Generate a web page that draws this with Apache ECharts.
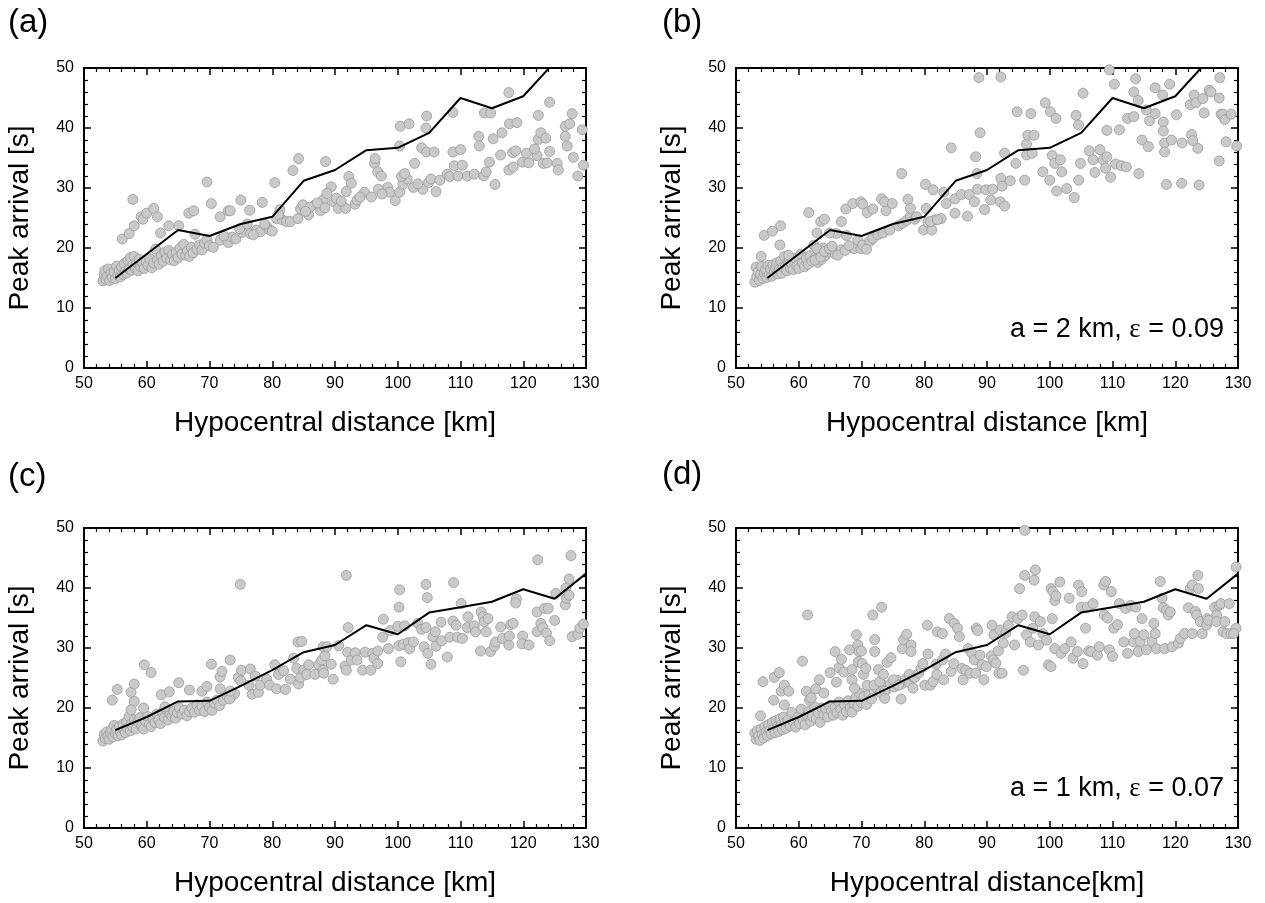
<!DOCTYPE html>
<html>
<head>
<meta charset="utf-8">
<script src="https://cdn.jsdelivr.net/npm/echarts@6/dist/echarts.min.js"></script>
<style>
html,body{margin:0;padding:0;background:#fff;}
#chart{width:1265px;height:903px;}
</style>
</head>
<body>
<div id="chart"></div>
<script>
// ---------------- DATA ----------------
const panelLabels = ['(a)', '(b)', '(c)', '(d)'];
const xTitles = ['Hypocentral distance [km]', 'Hypocentral distance [km]', 'Hypocentral distance [km]', 'Hypocentral distance[km]'];
const yTitle = 'Peak arrival [s]';
const annoB = 'a = 2 km, {e|ε} = 0.09';
const annoD = 'a = 1 km, {e|ε} = 0.07';

const lineX_AB = [55, 60, 65, 70, 75, 80, 85, 90, 95, 100, 105, 110, 115, 120, 125];
const lineY_AB = [15, 19, 23, 22, 24, 25.2, 31.2, 33, 36.3, 36.7, 39.2, 45, 43.3, 45.3, 51];
const lineX_CD = [55, 60, 65, 70, 75, 80, 85, 90, 95, 100, 105, 110, 115, 120, 125, 130];
const lineY_CD = [16.3, 18.5, 21.1, 21.2, 23.7, 26.3, 29.3, 30.5, 33.8, 32.3, 35.9, 36.8, 37.7, 39.8, 38.2, 42.4];

const scatterA = [
[53.0,14.5],[53.2,15.5],[53.3,16.2],[53.5,14.8],[53.7,15.3],[53.9,16.5],[54.1,14.6],[54.3,15.8],[54.5,15.1],[54.8,16.0],
[55.0,14.9],[55.2,17.0],[55.4,15.5],[55.6,16.3],[55.8,15.2],[56.0,16.8],[56.2,15.6],[56.4,17.4],[56.6,16.1],[56.8,15.8],
[57.0,17.9],[57.2,16.5],[57.4,18.4],[57.6,16.3],[57.8,17.2],[58.0,18.6],[58.2,16.6],[58.4,17.6],[58.6,16.2],[58.8,18.1],
[59.0,16.9],[59.3,17.5],[59.6,16.6],[59.9,17.8],[60.2,17.1],[60.5,18.2],[60.8,16.7],[61.1,17.5],[61.4,19.8],[61.7,18.0],
[62.0,17.3],[62.3,18.7],[62.6,17.8],[62.9,19.3],[63.2,18.3],[63.5,19.6],[63.8,18.0],[64.1,18.9],[64.4,17.9],[64.7,19.3],
[65.0,18.4],[65.3,20.0],[65.6,19.0],[65.9,20.6],[66.2,18.8],[66.5,19.5],[66.8,18.6],[67.1,20.1],[67.4,19.2],[67.7,22.3],
[68.0,19.8],[68.4,20.5],[68.8,19.7],[69.2,20.8],[69.6,21.4],[70.0,20.4],
[56.1,21.5],[57.2,22.4],[57.8,28.1],[58.0,23.7],[59.1,25.2],[59.4,24.8],[60.0,25.8],[61.1,26.6],[61.7,25.2],[62.2,22.5],
[63.5,23.7],[65.1,23.7],[66.7,25.8],[67.5,26.2],[69.6,31.0],[70.3,27.4],[71.7,25.2],[73.0,26.2],[73.3,26.2],[75.0,28.0],
[76.4,26.3],[78.4,27.6],[80.4,30.9],[81.2,26.4],[83.3,32.9],[84.2,34.9],[88.5,34.4],[89.4,30.2],[92.2,31.9],[92.6,30.8],[91.8,29.4],
[70.6,20.1],[71.7,21.3],[73.0,20.9],[73.6,21.8],[74.2,21.5],[75.2,22.6],[76.5,22.4],[77.5,23.0],[78.1,22.7],[79.1,23.6],
[79.6,23.0],[80.7,24.9],[81.6,24.7],[82.3,24.4],[72.3,22.0],[74.8,23.2],[76.0,24.0],[77.0,22.2],[78.8,24.0],[80.0,22.8],[81.0,25.6],
[82.9,24.4],[84.1,24.9],[84.5,26.5],[84.9,27.2],[85.8,25.5],[86.8,27.2],[87.7,26.2],[88.1,28.0],[88.7,29.1],[89.8,27.7],
[86.0,26.8],[87.2,27.5],[88.4,26.7],[85.3,26.1],
[90.5,26.6],[91.7,26.6],[93.2,27.3],[93.5,28.0],[94.7,29.3],[95.8,28.5],[98.4,30.1],[98.7,29.3],[99.6,27.9],[100.3,29.3],
[102.5,30.1],[104.0,29.8],[104.9,30.9],[105.3,31.5],[106.1,29.4],[106.7,31.3],[107.9,32.3],[108.3,31.9],[109.6,32.0],[111.1,32.0],
[112.2,32.3],[113.7,32.0],[114.1,32.7],[90.2,28.3],[91.0,27.8],[94.0,28.5],[96.9,29.8],[97.5,29.0],[100.8,30.6],[101.5,31.5],[103.2,30.7],
[96.3,34.1],[96.4,34.9],[96.8,32.7],[97.4,32.0],[100.3,37.0],[100.4,40.3],[101.8,40.7],[100.6,31.9],[101.1,32.4],[102.7,34.1],
[103.8,36.7],[104.5,40.0],[104.6,42.0],[104.6,36.0],[105.8,36.0],[108.8,42.6],[108.8,36.0],[110.0,36.4],[109.0,33.7],[110.3,33.8],
[112.9,38.6],[113.0,37.0],[113.8,42.5],[114.8,42.5],[114.6,34.3],[115.2,38.2],[115.5,30.6],[116.4,35.5],[116.6,39.2],[117.7,45.9],
[117.8,40.7],[119.0,40.9],[118.3,35.9],[118.8,36.2],[117.7,33.0],[118.4,33.5],[119.9,34.3],[120.5,35.8],[120.9,34.2],[122.2,35.4],
[122.4,38.1],[122.8,39.2],[122.4,42.1],[123.2,34.1],[123.6,38.3],[124.2,36.1],[124.2,44.3],[125.4,34.1],[125.6,33.0],[126.7,38.6],
[127.0,37.0],[126.7,40.3],[127.4,40.7],[127.8,42.4],[128.0,35.1],[128.7,32.0],[129.4,39.7],[129.6,33.8],[123.8,34.2],[121.8,36.5]
];

const scatterB = [
[53.0,14.3],[53.2,16.8],[53.3,15.2],[53.5,16.0],[53.7,14.6],[53.9,15.6],[54.1,16.9],[54.3,14.9],[54.5,15.8],[54.7,16.4],
[54.9,15.1],[55.1,17.1],[55.3,15.6],[55.5,16.5],[55.7,15.3],[55.9,17.2],[56.1,16.0],[56.3,16.7],[56.5,17.5],[56.7,15.7],
[56.9,16.4],[57.1,17.8],[57.3,15.8],[57.5,16.8],[57.7,18.6],[57.9,17.0],[58.1,16.2],[58.3,17.6],[58.5,18.0],[58.7,16.6],
[58.9,17.3],[59.1,16.4],[59.4,18.3],[59.7,17.0],[60.0,16.6],[60.3,19.0],[60.6,17.5],[60.9,16.9],[61.2,18.3],[61.5,17.3],
[61.8,18.7],[62.1,17.8],[62.4,20.5],[62.7,18.5],[63.0,17.6],[63.3,19.2],[63.6,18.1],[63.9,20.0],[64.2,18.7],[64.5,19.3],
[58.4,18.8],[57.0,20.5],
[62.9,19.9],[62.6,18.0],[63.5,18.5],[64.1,19.4],[64.9,19.9],[65.8,19.0],[66.8,19.7],[68.8,19.9],[69.4,21.3],[69.9,19.9],
[70.2,20.5],[71.3,21.1],[71.8,21.6],[72.6,22.2],[73.4,22.5],[74.5,23.0],[75.9,23.7],[76.5,24.1],[77.2,24.6],[77.8,25.3],
[78.5,24.8],[79.9,23.0],[80.6,24.3],[81.2,23.0],[81.7,24.7],[82.7,24.9],[65.3,20.3],[66.2,18.8],[67.4,19.6],[68.0,20.4],
[70.8,19.8],[67.6,22.1],[66.0,22.4],
[54.5,22.1],[55.8,22.8],[54.0,18.6],[57.1,23.7],[61.6,25.9],[63.5,24.4],[64.1,24.8],[62.9,22.5],[64.9,22.5],[66.8,24.4],
[67.5,26.5],[68.6,27.4],[69.9,27.7],[70.2,27.3],[70.9,25.9],[71.8,26.5],[73.2,28.2],[73.9,26.2],[73.7,27.7],[74.9,27.4],
[76.4,32.4],[77.4,28.1],[77.8,26.6],[78.8,25.2],[80.2,30.6],[81.4,29.7],[80.3,26.6],[81.0,24.4],[82.1,24.7],[83.1,29.3],
[84.3,36.7],[83.5,27.4],[84.9,25.8],[84.9,28.2],[85.9,28.9],[86.9,25.3],[87.2,28.9],[88.2,35.2],[88.4,32.4],[88.7,48.4],
[88.9,39.2],[88.5,29.8],[88.0,27.7],[89.6,26.4],[89.8,29.7],[90.9,29.8],[90.6,28.0],[92.2,31.6],[92.2,48.5],[92.4,30.3],
[92.1,27.7],[92.8,27.0],[92.8,35.8],[93.7,31.2],[94.8,42.7],[94.6,34.1],[96.0,31.3],[96.3,35.5],[96.3,37.3],[96.5,38.8],
[97.0,42.4],[97.5,38.8],[97.2,35.8],[99.3,44.2],[98.9,32.7],[100.0,31.3],[100.1,42.7],[100.4,35.4],[100.8,34.1],[101.0,41.6],
[101.1,29.5],[101.7,34.7],[101.9,32.7],[102.7,29.9],[103.9,28.4],[104.2,42.1],[104.6,40.5],[104.6,31.3],[104.9,34.1],[105.3,45.8],
[106.3,36.2],[106.9,34.7],[107.2,32.6],[108.0,36.4],[108.5,34.7],[109.1,35.2],[109.1,39.6],[108.9,33.3],[109.7,31.8],[109.5,49.7],
[110.3,47.3],[110.5,34.0],[111.1,39.7],[111.4,33.7],[112.2,33.5],[112.4,41.6],[113.4,41.9],[113.4,46.0],[113.7,48.2],[114.1,44.6],
[114.2,32.4],[114.7,38.0],[115.4,43.0],[115.7,36.9],[115.9,41.2],[116.8,42.4],[116.8,46.7],[118.0,45.5],[118.1,41.0],[118.1,39.5],
[118.3,37.5],[118.3,36.0],[118.6,30.6],[119.1,47.3],[119.4,38.0],[120.2,42.2],[121.1,37.5],[121.0,30.8],[122.4,43.9],[122.6,38.9],
[122.8,37.9],[123.0,45.5],[123.3,44.2],[123.6,36.6],[123.8,30.5],[124.4,44.9],[124.6,42.5],[125.4,46.3],[125.7,46.0],[127.1,48.4],
[127.0,45.0],[127.0,34.5],[127.3,42.3],[127.6,42.3],[127.9,41.4],[128.1,37.7],[128.9,42.3],[129.8,37.0]
];

const scatterC = [
[53.0,14.5],[53.2,15.6],[53.4,14.9],[53.6,16.0],[53.8,15.3],[54.0,14.8],[54.2,15.8],[54.4,16.4],[54.6,15.2],[54.8,17.1],
[55.0,15.7],[55.2,16.5],[55.4,15.4],[55.6,16.9],[55.8,16.0],[56.0,15.5],[56.2,17.3],[56.4,16.3],[56.6,15.9],[56.8,17.7],
[57.0,16.6],[57.2,18.6],[57.4,16.2],[57.6,17.4],[57.8,16.8],[58.0,18.0],[58.3,16.5],[58.6,17.7],[58.9,18.4],[59.2,17.0],
[59.5,16.5],[59.8,17.8],[60.1,18.6],[60.4,17.2],[60.7,16.9],[61.0,18.2],[61.3,17.6],[61.6,19.0],[61.9,18.0],[62.2,17.4],
[62.5,19.3],[62.8,18.4],[63.1,19.8],[63.4,18.0],[63.7,19.0],[64.0,18.6],[64.3,19.5],[64.6,18.3],[64.9,19.2],[65.2,20.0],
[65.6,19.0],[66.0,19.6],[66.4,18.7],[66.8,19.4],[67.2,20.0],[67.6,19.3],[68.0,20.5],[68.4,19.6],[68.8,20.3],[69.2,19.4],
[69.6,21.0],[70.0,20.1],[70.4,19.6],[70.8,20.8],[71.2,21.3],[71.6,20.4],[72.2,21.3],[72.8,22.0],[73.4,21.8],[74.0,22.4],
[54.5,21.3],[55.3,23.1],[57.5,22.6],[58.0,24.0],[58.0,21.1],[57.5,19.7],[59.5,20.0],[59.6,27.2],[60.7,25.9],[62.3,22.2],
[63.6,22.7],[65.1,24.2],[62.9,20.2],[66.8,23.0],[68.8,22.8],[69.6,23.6],[70.3,27.3],[71.7,25.2],[72.0,26.1],[73.3,28.0],
[71.7,23.2],[73.2,21.5],[73.3,22.8],[74.6,25.1],[74.9,40.6],[75.1,26.3],[75.0,24.5],[76.5,26.5],[76.8,22.3],[76.3,23.8],
[77.3,25.3],[77.8,22.6],[78.1,23.8],[79.1,24.8],[79.6,23.8],[80.4,27.2],[80.7,23.2],[81.0,25.6],[81.8,26.2],[82.1,23.1],
[82.9,24.8],[83.4,28.3],[83.9,26.6],[84.1,31.0],[84.7,31.1],[84.2,24.0],[84.5,25.1],[85.0,26.3],[85.5,25.6],[85.8,27.2],
[86.8,25.6],[87.4,27.2],[87.9,28.0],[88.1,26.3],[88.2,25.8],[88.4,28.7],[88.1,30.2],[88.7,30.2],[89.7,24.8],[89.4,27.3],
[90.6,30.4],[91.6,27.0],[91.8,42.1],[91.8,26.3],[92.1,33.4],[92.0,29.3],[92.6,28.0],[93.2,29.2],[93.5,28.0],[94.4,26.3],
[94.8,29.3],[95.7,26.3],[96.0,29.1],[96.2,28.3],[96.8,29.5],[96.8,27.4],[97.7,34.8],[97.6,31.8],[98.5,29.9],[98.8,32.9],
[100.0,33.6],[100.2,36.8],[100.3,39.7],[100.2,30.4],[100.5,27.7],[100.9,30.6],[101.1,33.7],[101.7,30.9],[101.9,29.9],[102.5,31.0],
[103.2,34.1],[103.8,33.1],[104.2,30.2],[104.5,40.6],[104.7,38.4],[104.5,33.4],[104.8,29.1],[105.3,27.3],[105.6,31.9],[106.0,32.7],
[106.1,30.3],[106.9,34.3],[107.0,31.2],[107.9,28.5],[108.3,31.8],[108.9,40.9],[108.8,34.5],[109.3,33.8],[109.5,31.8],[110.1,37.4],
[110.3,31.6],[111.1,33.4],[111.2,35.2],[112.2,33.7],[112.4,32.7],[113.2,29.5],[113.3,36.0],[113.6,35.2],[113.8,34.4],[114.1,32.7],
[114.4,34.9],[114.8,29.4],[115.4,30.3],[115.6,31.0],[116.4,33.5],[116.7,31.6],[117.7,30.5],[117.8,32.0],[118.0,33.9],[118.4,34.1],
[118.9,38.2],[118.8,37.5],[119.9,32.0],[119.8,30.7],[120.9,30.5],[122.2,36.0],[122.3,44.7],[122.2,32.7],[122.8,34.1],[123.1,33.4],
[123.4,36.6],[123.7,32.5],[124.0,36.6],[124.2,31.2],[125.2,39.1],[125.0,34.6],[126.7,37.2],[126.8,40.0],[126.9,38.3],[127.3,41.5],
[127.3,38.8],[127.6,45.4],[127.8,31.9],[128.7,32.3],[129.0,33.3],[129.6,34.0]
];

const scatterD = [
[53.0,15.8],[53.2,14.8],[53.4,16.2],[53.6,15.3],[53.8,14.6],[54.0,16.5],[54.2,15.6],[54.4,15.0],[54.6,16.9],[54.8,16.0],
[55.0,15.4],[55.2,17.2],[55.4,16.3],[55.6,15.7],[55.8,17.6],[56.0,16.6],[56.2,15.9],[56.4,17.9],[56.6,16.9],[56.8,16.1],
[57.0,18.2],[57.2,17.2],[57.4,16.4],[57.6,18.5],[57.8,17.5],[58.0,16.6],[58.3,18.0],[58.6,17.0],[58.9,19.3],[59.2,17.6],
[59.5,16.8],[59.8,18.4],[60.1,17.4],[60.4,19.8],[60.7,18.0],[61.0,17.2],[61.3,18.8],[61.6,19.4],[61.9,17.8],[62.2,18.6],
[62.5,20.2],[62.8,18.2],[63.1,19.2],[63.4,17.6],[63.7,20.0],[64.0,18.9],[64.3,19.8],[64.6,18.5],[64.9,20.4],[65.2,19.5],
[65.5,18.8],[65.8,20.1],[66.1,19.2],[66.4,21.0],[66.7,19.8],[67.0,18.8],[67.3,20.5],[67.6,19.4],[67.9,21.2],[68.2,20.0],
[68.5,19.3],[68.8,20.8],[69.1,21.8],[69.4,20.3],[69.7,22.5],[70.0,20.9],[70.4,21.9],[70.8,20.6],[71.2,22.3],[71.6,21.5],
[72.0,22.8],[72.5,23.3],[73.0,22.6],[73.5,23.8],[74.0,23.1],[74.6,24.0],[75.2,23.5],[75.8,24.6],[76.4,24.0],[77.0,24.8],
[77.6,24.3],[78.2,25.2],
[54.3,24.4],[53.9,18.7],[56.1,25.1],[56.9,25.9],[56.0,21.3],[57.2,22.8],[57.7,23.8],[58.4,22.8],[57.7,20.5],[60.6,27.8],
[61.4,35.5],[61.2,22.8],[61.7,21.3],[62.0,21.7],[62.7,23.2],[63.3,24.7],[64.0,22.5],[65.0,25.9],[65.8,29.4],[66.0,24.3],
[66.4,26.7],[66.8,28.1],[67.2,26.0],[68.1,29.7],[68.5,26.4],[68.5,24.7],[68.9,23.3],[69.2,32.2],[69.4,30.5],[69.6,29.4],
[69.5,27.7],[70.0,29.5],[70.1,27.4],[70.3,25.6],[70.7,26.6],[70.9,23.8],[71.8,35.5],[72.0,23.8],[72.1,31.4],[72.1,29.4],
[72.7,26.4],[72.9,24.4],[73.2,36.8],[73.5,25.6],[73.7,22.8],[73.7,21.6],[74.1,27.6],[74.7,28.4],[75.1,24.7],[75.9,23.8],
[76.3,21.5],[76.5,29.9],[76.7,31.4],[77.2,32.3],[77.6,25.6],[77.9,30.5],[77.9,29.4],[78.2,23.3],[78.5,25.1],[79.1,25.8],
[79.5,26.6],[79.8,27.4],[80.1,23.8],[80.5,33.8],[80.6,29.0],[81.0,23.8],[81.4,24.4],[81.9,27.3],[82.0,25.6],[82.1,32.7],
[82.9,32.4],[82.9,28.0],[83.1,24.7],[83.4,29.0],[84.0,34.9],[84.3,26.1],[84.7,27.4],[84.8,34.1],[85.3,33.3],[85.6,31.9],
[86.0,26.6],[86.2,24.7],[86.6,26.3],[87.0,29.9],[87.3,25.8],[87.6,29.1],[88.0,28.0],[88.2,25.8],[88.3,33.3],[88.5,32.9],
[88.9,28.8],[89.2,27.2],[89.5,24.7],[89.9,26.9],[90.8,33.8],[90.7,28.7],[91.0,28.0],[91.1,32.2],[91.4,27.5],[91.8,29.5],
[91.9,25.8],[92.1,33.0],[92.4,25.8],[92.6,30.8],[93.0,32.5],[93.4,33.8],[94.0,35.2],[94.4,30.5],[94.9,34.9],[95.2,39.9],
[95.6,35.5],[95.8,26.3],[96.0,42.1],[96.3,32.2],[96.9,31.0],[97.3,33.3],[97.5,41.3],[97.7,43.0],[97.6,35.2],[98.2,30.5],
[98.5,34.4],[98.9,32.4],[99.5,31.3],[99.8,27.2],[100.2,26.9],[100.4,34.9],[100.2,39.9],[100.5,39.4],[100.8,37.9],[101.0,38.7],
[100.8,29.9],[101.6,41.0],[101.8,29.1],[102.4,29.9],[103.1,38.3],[103.4,31.0],[103.7,28.3],[104.4,29.4],[104.6,40.5],[105.0,36.8],
[105.1,39.4],[105.3,27.4],[105.7,33.3],[106.0,36.8],[106.2,29.5],[106.6,29.4],[106.9,37.4],[107.6,28.8],[107.9,30.2],[108.6,40.5],
[108.7,35.5],[108.9,41.1],[109.2,35.0],[109.5,29.7],[109.8,39.4],[110.0,28.6],[110.2,33.3],[110.8,33.9],[111.1,37.4],[111.8,31.0],
[112.1,36.6],[112.4,29.1],[112.9,37.1],[113.4,31.0],[113.5,32.4],[113.7,36.8],[114.1,29.4],[114.4,31.1],[114.7,34.9],[115.0,32.2],
[115.4,29.7],[116.3,31.1],[116.6,34.1],[116.8,32.4],[117.0,29.9],[117.6,41.1],[117.9,38.3],[118.1,36.7],[118.3,29.9],[118.6,36.3],
[118.9,35.5],[119.2,36.0],[119.5,30.2],[120.5,30.8],[120.8,31.6],[121.5,32.4],[122.1,36.7],[122.4,39.9],[122.7,32.4],[122.7,40.5],
[123.2,36.1],[123.4,35.5],[123.6,42.1],[123.7,39.9],[124.0,34.4],[124.3,32.4],[125.0,33.8],[125.1,34.9],[125.3,34.6],[126.3,36.8],
[126.6,35.5],[126.6,34.4],[127.0,37.1],[127.3,37.4],[127.6,32.7],[127.9,34.4],[128.2,32.4],[128.6,37.4],[128.9,32.4],[129.7,43.5],
[129.7,33.3],[129.3,32.4],[96.0,49.6]
];

// ---------------- LAYOUT ----------------
const grids = [
  {left: 84, top: 68, width: 502, height: 300},
  {left: 736, top: 68, width: 502, height: 300},
  {left: 84, top: 528, width: 502, height: 300},
  {left: 736, top: 528, width: 502, height: 300}
];
const scatters = [scatterA, scatterB, scatterC, scatterD];
const lines = [
  [lineX_AB, lineY_AB], [lineX_AB, lineY_AB], [lineX_CD, lineY_CD], [lineX_CD, lineY_CD]
];

const FONT = "'Liberation Sans', Arial, Helvetica, sans-serif";
const axLine = {show: true, onZero: false, lineStyle: {color: '#000', width: 2}};
const axTick = {show: true, inside: true, length: 7, lineStyle: {color: '#000', width: 1.5}};
const minTick = {show: true, splitNumber: 5, length: 4, lineStyle: {color: '#000', width: 1.2}};

const xAxes = [], yAxes = [], series = [];
grids.forEach((g, i) => {
  xAxes.push({
    type: 'value', gridIndex: i, position: 'bottom', min: 50, max: 130, interval: 10,
    axisLine: axLine, axisTick: axTick, minorTick: minTick, splitLine: {show: false},
    axisLabel: {color: '#000', fontSize: 16, margin: 8, fontFamily: FONT},
    name: xTitles[i], nameLocation: 'middle', nameGap: 41,
    nameTextStyle: {color: '#000', fontSize: 28, fontFamily: FONT}
  });
  xAxes.push({
    type: 'value', gridIndex: i, position: 'top', min: 50, max: 130, interval: 10,
    axisLine: axLine, axisTick: axTick, minorTick: minTick, splitLine: {show: false},
    axisLabel: {show: false}
  });
  yAxes.push({
    type: 'value', gridIndex: i, position: 'left', min: 0, max: 50, interval: 10,
    axisLine: axLine, axisTick: axTick, minorTick: minTick, splitLine: {show: false},
    axisLabel: {color: '#000', fontSize: 16, margin: 10, fontFamily: FONT},
    name: yTitle, nameLocation: 'middle', nameGap: 50,
    nameTextStyle: {color: '#000', fontSize: 28, fontFamily: FONT}
  });
  yAxes.push({
    type: 'value', gridIndex: i, position: 'right', min: 0, max: 50, interval: 10,
    axisLine: axLine, axisTick: axTick, minorTick: minTick, splitLine: {show: false},
    axisLabel: {show: false}
  });
  series.push({
    type: 'scatter', xAxisIndex: 2 * i, yAxisIndex: 2 * i,
    data: scatters[i], symbol: 'circle', symbolSize: 10,
    itemStyle: {color: '#c9c9c9', borderColor: '#9a9a9a', borderWidth: 0.8, opacity: 1},
    clip: true, z: 2, silent: true
  });
  const lx = lines[i][0], ly = lines[i][1];
  series.push({
    type: 'line', xAxisIndex: 2 * i, yAxisIndex: 2 * i,
    data: lx.map((x, k) => [x, ly[k]]), symbol: 'none', clip: true,
    lineStyle: {color: '#000', width: 2}, z: 3, silent: true
  });
});

const labelPos = [[8, 6], [662, 6], [8, 460], [662, 458]];
const graphic = panelLabels.map((t, i) => ({
  type: 'text', left: labelPos[i][0], top: labelPos[i][1],
  style: {text: t, font: '33px ' + FONT, fill: '#000'}
}));
graphic.push({
  type: 'text', x: 1224, y: 330,
  style: {text: annoB, fill: '#000', font: '27px ' + FONT, align: 'right', verticalAlign: 'middle',
    rich: {e: {fontFamily: "'Liberation Serif', 'Times New Roman', serif", fontSize: 27}}}
});
graphic.push({
  type: 'text', x: 1224, y: 789,
  style: {text: annoD, fill: '#000', font: '27px ' + FONT, align: 'right', verticalAlign: 'middle',
    rich: {e: {fontFamily: "'Liberation Serif', 'Times New Roman', serif", fontSize: 27}}}
});

const chart = echarts.init(document.getElementById('chart'), null, {renderer: 'canvas'});
chart.setOption({
  animation: false,
  backgroundColor: '#fff',
  grid: grids.map(g => Object.assign({containLabel: false}, g)),
  xAxis: xAxes,
  yAxis: yAxes,
  series: series,
  graphic: graphic
});
</script>
</body>
</html>
